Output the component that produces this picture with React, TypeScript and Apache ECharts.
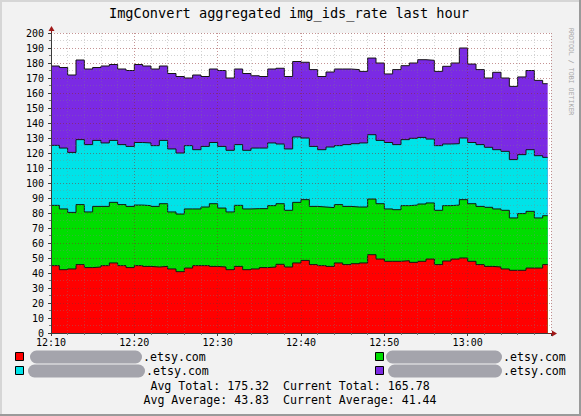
import React, { useEffect, useRef } from "react";
import * as echarts from "echarts";

const FONT = "'DejaVu Sans Mono', monospace";

// x tick labels (every 10 minutes, starting 12:10)
const tickLabels = ["12:10", "12:20", "12:30", "12:40", "12:50", "13:00"];
// one sample per minute starting at 12:10; last sample runs until minute 59.6
const dataEndMinute = 59.6;

const hostNames = [".etsy.com", ".etsy.com", ".etsy.com", ".etsy.com"];
const seriesColors = ["#ff0000", "#00dd00", "#00e3e8", "#7b2ae4"];

const red = [
  44.9, 42.2, 42.7, 45.6, 43.6, 44.0, 44.9, 46.7, 44.9, 43.6,
  44.9, 44.4, 44.0, 44.4, 42.7, 40.9, 43.3, 44.9, 44.9, 44.4,
  44.0, 42.2, 44.4, 42.2, 42.7, 43.6, 44.0, 45.8, 44.0, 46.7,
  48.4, 45.6, 44.9, 44.4, 46.7, 45.6, 46.2, 46.7, 52.2, 49.3,
  47.8, 47.8, 48.2, 47.1, 47.8, 49.3, 45.6, 48.0, 49.3, 50.0,
  47.8, 45.6, 44.4, 44.0, 42.7, 41.8, 41.8, 43.3, 43.3, 45.6,
];
const green = [
  40.2, 40.5, 37.7, 40.0, 37.1, 40.4, 39.5, 40.4, 40.7, 40.8,
  40.4, 40.5, 40.4, 41.8, 38.0, 38.4, 39.4, 37.8, 39.1, 41.8,
  39.3, 38.5, 40.7, 40.5, 40.2, 39.3, 40.9, 40.4, 37.8, 40.4,
  40.5, 38.8, 39.1, 39.2, 38.9, 38.8, 37.8, 37.3, 37.1, 36.9,
  34.9, 34.4, 36.7, 38.2, 38.2, 37.4, 36.2, 36.9, 36.0, 38.9,
  38.4, 38.8, 39.4, 38.7, 39.1, 34.9, 37.8, 37.8, 33.4, 32.6,
];
const cyan = [
  40.0, 40.6, 40.0, 43.3, 44.9, 44.0, 42.3, 41.3, 40.0, 40.0,
  41.7, 41.8, 40.5, 42.2, 42.0, 40.7, 42.2, 39.5, 40.4, 40.8,
  41.1, 41.1, 40.5, 39.1, 40.4, 40.4, 41.8, 39.8, 40.9, 43.6,
  41.1, 40.0, 38.2, 40.4, 39.3, 41.2, 42.2, 42.7, 42.9, 42.2,
  44.3, 43.4, 44.0, 44.5, 44.4, 42.6, 43.1, 41.1, 40.9, 41.1,
  40.8, 41.2, 40.0, 39.5, 39.3, 38.9, 39.3, 41.1, 41.5, 38.9,
];
const purple = [
  52.9, 53.7, 51.6, 53.1, 50.4, 48.6, 51.3, 50.6, 50.4, 50.6,
  52.0, 51.3, 51.1, 49.6, 50.3, 51.0, 45.1, 49.8, 46.6, 49.0,
  50.6, 48.2, 50.4, 51.2, 48.2, 47.7, 49.3, 50.5, 48.3, 50.3,
  50.5, 51.2, 48.8, 50.0, 51.1, 50.4, 49.4, 47.7, 51.1, 51.6,
  45.7, 50.0, 49.3, 50.2, 51.8, 52.5, 49.5, 51.8, 53.8, 60.0,
  52.3, 50.0, 46.2, 51.6, 48.9, 48.8, 51.8, 52.8, 50.2, 49.1,
];

const footerLines = [
  "Avg Total: 175.32  Current Total: 165.78",
  "Avg Average: 43.83  Current Average: 41.44",
];

export default function App() {
  const ref = useRef<HTMLDivElement>(null);

  useEffect(() => {
    const chart = echarts.init(ref.current!, null, { renderer: "svg" });
    const all = [red, green, cyan, purple];
    // cumulative (stacked) tops, computed from the per-host values
    const cumulative = all.map((_, i) =>
      all[0].map((__, k) => {
        let s = 0;
        for (let j = 0; j <= i; j++) s += all[j][k];
        return Math.round(s * 100) / 100;
      })
    );
    const toPairs = (arr: number[]) => [
      ...arr.map((v, i) => [i, v]),
      [dataEndMinute, arr[arr.length - 1]],
    ];

    // draw the topmost layer first so lower layers paint over it
    const series = [3, 2, 1, 0].map((i) => ({
      type: "line",
      name: "s" + i,
      step: "end",
      symbol: "none",
      z: 2,
      data: toPairs(cumulative[i]),
      lineStyle: { color: "#151515", width: 1 },
      itemStyle: { color: seriesColors[i] },
      areaStyle: { color: seriesColors[i], opacity: 1, origin: "start" },
    }));

    const majorLine = { color: "rgba(140,40,40,0.5)", type: [1, 2], width: 1 };
    const minorLine = { color: "rgba(130,130,130,0.35)", type: [1, 2], width: 1 };
    const axisColor = "#3a3a3a";

    const legendX = [15, 375];
    const legendRowY = [357, 371];
    const pillX = [
      [30, 142],
      [386, 502],
      [28, 145],
      [388, 502],
    ];
    const legendGraphics: any[] = [];
    all.forEach((_, i) => {
      const col = i === 0 || i === 2 ? 0 : 1;
      const row = i < 2 ? 0 : 1;
      const cy = legendRowY[row];
      legendGraphics.push({
        type: "rect",
        shape: { x: legendX[col] + 0.5, y: cy - 4.5, width: 8, height: 8 },
        style: { fill: seriesColors[i], stroke: "#000", lineWidth: 1 },
      });
      legendGraphics.push({
        type: "rect",
        shape: { x: pillX[i][0], y: cy - 6.5, width: pillX[i][1] - pillX[i][0], height: 13, r: 6.5 },
        style: { fill: "#a4a4ac" },
      });
      legendGraphics.push({
        type: "text",
        x: pillX[i][1] + 1,
        y: cy,
        style: {
          text: hostNames[i],
          font: `11.6px ${FONT}`,
          fill: "#000",
          textAlign: "left",
          textVerticalAlign: "middle",
        },
      });
    });

    const option: any = {
      animation: false,
      backgroundColor: "#f2f2f2",
      grid: {
        left: 51,
        top: 33,
        width: 500,
        height: 300,
        show: true,
        backgroundColor: "#ffffff",
        borderWidth: 0,
      },
      xAxis: {
        type: "value",
        min: 0,
        max: 60,
        interval: 10,
        z: 3,
        axisLine: { show: true, onZero: false, lineStyle: { color: axisColor, width: 1 } },
        axisTick: { show: true, length: 3, lineStyle: { color: axisColor } },
        minorTick: { show: true, splitNumber: 5, length: 2, lineStyle: { color: "#777" } },
        axisLabel: {
          showMaxLabel: false,
          fontFamily: FONT,
          fontSize: 10,
          color: "#000",
          margin: 4,
          formatter: (v: number) => tickLabels[Math.round(v / 10)] ?? "",
        },
        splitLine: { show: true, lineStyle: majorLine },
        minorSplitLine: { show: true, lineStyle: minorLine },
      },
      yAxis: {
        type: "value",
        min: 0,
        max: 200,
        interval: 10,
        z: 3,
        axisLine: { show: true, lineStyle: { color: axisColor, width: 1 } },
        axisTick: { show: true, length: 3, lineStyle: { color: axisColor } },
        minorTick: { show: true, splitNumber: 2, length: 2, lineStyle: { color: "#777" } },
        axisLabel: {
          fontFamily: FONT,
          fontSize: 10,
          color: "#000",
          margin: 7,
        },
        splitLine: { show: true, lineStyle: majorLine },
        minorSplitLine: { show: true, lineStyle: minorLine },
      },
      series,
      graphic: [
        // frame
        { type: "line", shape: { x1: 0, y1: 1, x2: 581, y2: 1 }, style: { stroke: "#d6d6d6", lineWidth: 2 } },
        { type: "line", shape: { x1: 1, y1: 0, x2: 1, y2: 416 }, style: { stroke: "#d6d6d6", lineWidth: 2 } },
        { type: "line", shape: { x1: 580, y1: 0, x2: 580, y2: 416 }, style: { stroke: "#9a9a9a", lineWidth: 2 } },
        { type: "line", shape: { x1: 0, y1: 415, x2: 581, y2: 415 }, style: { stroke: "#9a9a9a", lineWidth: 2 } },
        // title
        {
          type: "text",
          x: 289,
          y: 13,
          style: {
            text: "ImgConvert aggregated img_ids_rate last hour",
            font: `13.6px ${FONT}`,
            fill: "#000",
            textAlign: "center",
            textVerticalAlign: "middle",
          },
        },
        // side credit
        {
          type: "text",
          x: 571,
          y: 28,
          rotation: -Math.PI / 2,
          style: {
            text: "RRDTOOL / TOBI OETIKER",
            font: `6.6px ${FONT}`,
            fill: "#a6a6a6",
            textAlign: "left",
            textVerticalAlign: "middle",
          },
        },
        // axis arrows
        { type: "line", z: 10, shape: { x1: 51.5, y1: 33, x2: 51.5, y2: 29 }, style: { stroke: "#8c1a1a", lineWidth: 1 } },
        { type: "polygon", z: 10, shape: { points: [[48.5, 31], [54.5, 31], [51.5, 26]] }, style: { fill: "#a01818" } },
        { type: "line", z: 10, shape: { x1: 548, y1: 333.5, x2: 553, y2: 333.5 }, style: { stroke: "#8c1a1a", lineWidth: 1 } },
        { type: "polygon", z: 10, shape: { points: [[552, 330.5], [552, 336.5], [557, 333.5]] }, style: { fill: "#a01818" } },
        ...legendGraphics,
        ...footerLines.map((t, i) => ({
          type: "text",
          x: 290,
          y: 386 + i * 14,
          style: {
            text: t,
            font: `11.6px ${FONT}`,
            fill: "#000",
            textAlign: "center",
            textVerticalAlign: "middle",
          },
        })),
      ],
    };

    chart.setOption(option);
    return () => chart.dispose();
  }, []);

  return (
    <div
      ref={ref}
      style={{ position: "absolute", left: 0, top: 0, width: 581, height: 416 }}
    />
  );
}
